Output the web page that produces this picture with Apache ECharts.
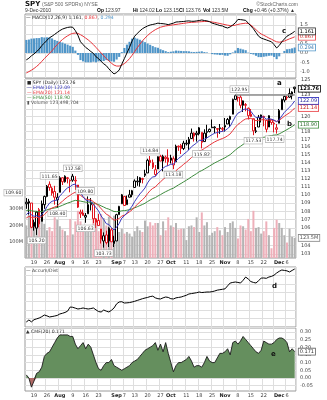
<!DOCTYPE html>
<html><head><meta charset="utf-8">
<script src="https://cdn.jsdelivr.net/npm/echarts@6/dist/echarts.min.js"></script>
<style>html,body{margin:0;padding:0;background:#fff}#c{width:327px;height:400px}</style>
</head><body><div id="c"></div>
<script>
// SPY daily, 14 Jul 2010 - 9 Dec 2010
const DATES = [
'2010-07-14','2010-07-15','2010-07-16','2010-07-19','2010-07-20','2010-07-21','2010-07-22','2010-07-23','2010-07-26','2010-07-27','2010-07-28','2010-07-29','2010-07-30',
'2010-08-02','2010-08-03','2010-08-04','2010-08-05','2010-08-06','2010-08-09','2010-08-10','2010-08-11','2010-08-12','2010-08-13','2010-08-16','2010-08-17','2010-08-18','2010-08-19','2010-08-20','2010-08-23','2010-08-24','2010-08-25','2010-08-26','2010-08-27','2010-08-30','2010-08-31',
'2010-09-01','2010-09-02','2010-09-03','2010-09-07','2010-09-08','2010-09-09','2010-09-10','2010-09-13','2010-09-14','2010-09-15','2010-09-16','2010-09-17','2010-09-20','2010-09-21','2010-09-22','2010-09-23','2010-09-24','2010-09-27','2010-09-28','2010-09-29','2010-09-30',
'2010-10-01','2010-10-04','2010-10-05','2010-10-06','2010-10-07','2010-10-08','2010-10-11','2010-10-12','2010-10-13','2010-10-14','2010-10-15','2010-10-18','2010-10-19','2010-10-20','2010-10-21','2010-10-22','2010-10-25','2010-10-26','2010-10-27','2010-10-28','2010-10-29',
'2010-11-01','2010-11-02','2010-11-03','2010-11-04','2010-11-05','2010-11-08','2010-11-09','2010-11-10','2010-11-11','2010-11-12','2010-11-15','2010-11-16','2010-11-17','2010-11-18','2010-11-19','2010-11-22','2010-11-23','2010-11-24','2010-11-26','2010-11-29','2010-11-30',
'2010-12-01','2010-12-02','2010-12-03','2010-12-06','2010-12-07','2010-12-08','2010-12-09'];

const OPEN = [
108.9,109.0,109.0,106.2,106.0,108.2,106.8,108.8,109.8,111.3,
110.8,110.4,109.4,110.3,112.1,111.6,112.0,111.8,111.8,111.8,
111.2,107.7,107.8,107.3,107.7,108.8,108.8,107.1,106.9,105.9,
104.5,105.2,104.5,105.8,104.2,104.5,107.6,108.9,109.8,108.8,
109.7,110.0,110.9,111.6,111.5,111.9,112.4,112.7,114.3,114.0,
113.1,113.2,114.8,114.2,114.7,114.6,114.3,114.5,114.1,116.1,
116.2,115.8,116.4,116.4,117.1,117.8,117.8,117.7,117.9,116.7,
117.9,118.0,118.5,118.5,118.4,118.5,118.4,118.8,119.0,119.6,
120.3,122.3,122.6,122.6,121.5,121.5,121.1,120.3,119.7,118.0,
118.6,119.8,119.9,119.5,118.6,119.6,119.1,118.5,119.1,120.9,
122.2,122.6,123.1,122.8,123.97];
const HIGH = [
109.60,109.5,109.0,107.0,108.0,108.4,109.3,109.9,111.2,111.65,
111.0,111.1,110.2,112.3,112.15,112.4,112.2,111.9,112.58,112.3,
111.2,108.2,108.2,107.8,109.80,109.6,108.8,107.2,107.7,105.9,
105.5,105.7,106.1,106.0,105.1,107.7,108.65,110.1,109.8,109.9,
110.6,110.6,111.9,112.3,112.2,112.1,113.1,114.5,114.84,114.4,
113.7,114.8,115.0,115.0,114.9,115.7,115.0,114.8,116.3,116.2,
116.4,116.8,116.9,117.3,118.4,117.9,118.1,118.6,117.9,118.3,
118.9,118.4,119.6,118.7,118.4,119.0,118.6,119.8,119.8,120.1,
122.4,122.95,122.7,122.9,122.15,121.8,121.2,121.0,119.7,118.6,
120.2,120.25,120.1,119.5,120.15,119.6,119.3,119.0,121.0,122.4,
122.8,122.8,123.8,123.4,124.02];
const LOW = [
108.3,107.6,106.0,105.7,105.20,106.1,106.8,108.3,109.7,110.5,
109.9,108.8,108.40,110.3,111.2,111.5,111.4,110.3,111.6,110.6,
108.4,107.2,107.5,106.63,107.7,108.1,106.6,106.0,106.3,104.2,
103.73,104.1,103.8,104.4,103.8,104.5,107.6,108.9,108.65,108.8,
109.7,109.7,110.9,111.1,111.0,111.4,112.2,112.7,113.6,113.2,
112.3,113.2,114.2,112.9,114.0,113.6,113.9,113.18,114.1,115.5,
115.1,115.6,116.2,115.6,117.1,116.7,116.7,117.5,115.82,116.7,
117.1,117.9,118.5,117.8,117.2,117.7,118.0,118.0,119.0,118.6,
120.3,122.2,122.0,121.1,120.6,120.7,119.6,119.9,117.53,117.8,
118.6,119.2,118.7,117.9,118.6,118.9,117.9,117.74,119.1,120.9,
121.9,122.2,122.5,122.3,123.15];
const CLOSE = [
109.1,109.2,106.1,106.7,107.9,106.5,108.9,109.8,111.05,110.9,
110.2,109.7,109.7,112.1,111.6,112.3,112.1,111.7,112.3,111.7,
108.5,107.9,107.5,107.5,108.8,108.97,107.1,106.7,106.3,104.7,
105.1,104.3,106.0,104.4,104.5,107.6,108.6,110.0,108.7,109.4,
110.0,110.5,111.7,111.7,112.1,112.0,112.6,114.3,114.0,113.4,
112.5,114.75,114.2,114.8,114.5,114.1,114.6,113.7,116.1,116.0,
115.8,116.5,116.5,117.0,117.8,117.4,117.6,118.5,116.6,117.8,
118.0,118.3,118.6,118.6,118.3,118.4,118.3,118.6,119.6,120.0,
122.3,122.8,122.5,121.5,122.1,121.6,120.1,120.0,118.1,118.1,
119.9,120.2,120.0,118.3,120.1,119.2,119.0,118.3,120.8,122.3,
122.7,122.5,122.6,123.30,123.76];
// volume, millions of shares
const VOLUME_M = [
200,265,300,210,260,260,230,210,170,190,
165,250,235,195,175,165,140,240,145,225,
290,225,190,175,200,185,250,225,165,270,
245,200,255,155,260,250,160,180,150,160,
150,130,165,195,170,160,230,195,220,200,
215,215,140,225,170,250,200,190,215,175,
180,180,110,195,200,190,250,160,280,200,
220,140,155,165,190,170,140,190,160,215,
225,185,120,200,195,175,240,165,290,185,
190,150,165,225,140,60,185,235,215,185,
140,95,180,130,123.5];

const EMA10 = [
107.6,107.89,107.56,107.4,107.49,107.31,107.6,108.0,108.56,108.99,
109.21,109.3,109.37,109.87,110.18,110.57,110.85,111.0,111.24,111.32,
110.81,110.28,109.77,109.36,109.26,109.21,108.83,108.44,108.05,107.44,
107.01,106.52,106.43,106.06,105.78,106.11,106.56,107.19,107.46,107.81,
108.21,108.63,109.19,109.65,110.1,110.45,110.84,111.47,111.93,112.2,
112.25,112.71,112.98,113.31,113.53,113.63,113.81,113.79,114.21,114.54,
114.77,115.08,115.34,115.64,116.03,116.28,116.52,116.88,116.83,117.01,
117.19,117.39,117.61,117.79,117.88,117.97,118.03,118.13,118.4,118.69,
119.35,119.98,120.44,120.63,120.9,121.03,120.86,120.7,120.23,119.84,
119.85,119.91,119.93,119.63,119.72,119.63,119.52,119.3,119.57,120.07,
120.55,120.9,121.25,121.62,122.09];
const EMA20 = [
107.2,107.39,107.27,107.22,107.28,107.21,107.37,107.6,107.93,108.21,
108.4,108.52,108.63,108.96,109.21,109.5,109.75,109.94,110.16,110.31,
110.14,109.93,109.7,109.49,109.42,109.38,109.16,108.93,108.68,108.3,
108.0,107.65,107.49,107.2,106.94,107.0,107.15,107.42,107.54,107.72,
107.94,108.18,108.52,108.82,109.13,109.4,109.71,110.15,110.52,110.79,
110.95,111.31,111.59,111.9,112.14,112.33,112.55,112.66,112.99,113.27,
113.51,113.8,114.05,114.33,114.66,114.92,115.18,115.5,115.6,115.81,
116.02,116.24,116.46,116.66,116.82,116.97,117.1,117.24,117.46,117.7,
118.14,118.58,118.95,119.19,119.47,119.67,119.71,119.74,119.58,119.44,
119.48,119.55,119.59,119.47,119.53,119.5,119.45,119.34,119.48,119.75,
120.03,120.27,120.5,120.78,121.14];
const EMA50 = [
108.1,108.14,108.06,108.01,108.0,107.94,107.98,108.05,108.17,108.28,
108.35,108.4,108.46,108.6,108.72,108.86,108.99,109.09,109.22,109.32,
109.28,109.23,109.16,109.1,109.09,109.08,109.0,108.91,108.81,108.65,
108.51,108.35,108.26,108.11,107.97,107.96,107.98,108.06,108.08,108.13,
108.2,108.29,108.42,108.55,108.69,108.82,108.97,109.18,109.37,109.53,
109.65,109.85,110.02,110.21,110.38,110.53,110.69,110.81,111.02,111.22,
111.4,111.6,111.79,111.99,112.22,112.42,112.62,112.85,113.0,113.19,
113.38,113.57,113.77,113.96,114.13,114.3,114.46,114.62,114.82,115.02,
115.31,115.6,115.87,116.09,116.33,116.54,116.68,116.81,116.86,116.91,
117.03,117.15,117.26,117.3,117.41,117.48,117.54,117.57,117.7,117.88,
118.07,118.26,118.46,118.67,118.9];

const MACD = [
-0.37,-0.28,-0.15,-0.05,0.08,0.2,0.4,0.53,0.68,0.82,
0.9,1.0,1.1,1.2,1.28,1.33,1.37,1.39,1.38,1.2,
0.95,0.6,0.45,0.3,0.2,0.08,-0.02,-0.2,-0.3,-0.45,
-0.58,-0.68,-0.85,-1.0,-1.12,-1.05,-0.91,-0.6,-0.3,0.0,
0.3,0.65,0.9,1.05,1.18,1.3,1.38,1.45,1.5,1.53,
1.56,1.6,1.58,1.57,1.55,1.52,1.56,1.6,1.66,1.67,
1.68,1.69,1.71,1.72,1.7,1.7,1.72,1.74,1.77,1.74,
1.72,1.68,1.6,1.56,1.52,1.47,1.45,1.38,1.34,1.4,
1.5,1.62,1.8,1.79,1.77,1.75,1.6,1.45,1.3,1.1,
0.9,0.8,0.75,0.7,0.65,0.6,0.45,0.27,0.4,0.6,
0.75,0.9,0.98,1.06,1.161];
const MACD_SIGNAL = [
-1.07,-1.0,-0.92,-0.83,-0.72,-0.6,-0.45,-0.3,-0.16,-0.02,
0.12,0.3,0.45,0.6,0.72,0.83,0.92,1.0,1.05,1.07,
1.05,0.98,0.9,0.8,0.7,0.58,0.45,0.3,0.15,0.0,
-0.15,-0.3,-0.42,-0.55,-0.65,-0.7,-0.7,-0.65,-0.57,-0.45,
-0.3,-0.12,0.08,0.28,0.47,0.65,0.8,0.94,1.06,1.16,
1.25,1.32,1.38,1.42,1.45,1.47,1.49,1.51,1.53,1.55,
1.57,1.59,1.61,1.63,1.64,1.65,1.66,1.67,1.68,1.69,
1.69,1.68,1.66,1.64,1.61,1.58,1.55,1.52,1.49,1.47,
1.47,1.49,1.53,1.56,1.58,1.6,1.58,1.5,1.38,1.25,
1.12,1.02,0.95,0.88,0.8,0.74,0.66,0.6,0.58,0.6,
0.64,0.7,0.76,0.81,0.867];
const MACD_HIST = [
0.70,0.72,0.77,0.78,0.80,0.80,0.85,0.83,0.84,0.84,
0.78,0.70,0.65,0.60,0.56,0.50,0.45,0.39,0.33,0.13,
-0.10,-0.38,-0.45,-0.50,-0.50,-0.50,-0.47,-0.50,-0.45,-0.45,
-0.43,-0.38,-0.43,-0.45,-0.47,-0.35,-0.21,0.05,0.27,0.45,
0.60,0.77,0.82,0.77,0.71,0.65,0.58,0.51,0.44,0.37,
0.31,0.28,0.20,0.15,0.10,0.05,0.07,0.09,0.13,0.12,
0.11,0.10,0.10,0.09,0.06,0.05,0.06,0.07,0.09,0.05,
0.03,0.00,-0.06,-0.08,-0.09,-0.11,-0.10,-0.14,-0.15,-0.07,
0.03,0.13,0.27,0.23,0.19,0.15,0.02,-0.05,-0.08,-0.15,
-0.22,-0.22,-0.20,-0.18,-0.15,-0.14,-0.21,-0.33,-0.18,0.00,
0.11,0.20,0.22,0.25,0.294];

const ACCUM_DIST = [
0.58,0.82,0.6,0.85,0.95,1.05,1.2,1.4,1.3,1.17,
1.22,1.28,1.35,1.52,1.6,1.7,1.85,2.33,2.3,2.2,
2.1,2.15,2.22,2.15,2.1,2.15,2.22,2.0,1.8,1.75,
1.98,1.85,1.75,1.95,2.22,2.7,2.92,2.95,2.8,2.82,
2.85,2.92,3.0,3.1,3.2,3.3,3.38,3.45,3.55,3.6,
3.4,3.3,3.27,3.4,3.5,3.45,3.3,3.27,3.4,3.45,
3.5,3.6,3.7,3.85,3.9,3.95,4.0,4.08,4.02,4.05,
4.08,4.08,4.12,4.2,4.3,4.35,4.4,4.45,4.8,5.13,
5.2,5.25,5.2,5.13,5.45,5.83,5.6,5.3,5.2,5.13,
5.4,5.7,5.72,5.68,5.83,5.9,6.05,6.3,6.5,6.65,
6.6,6.55,6.42,6.6,6.77];

const CMF20 = [
0.02,0.0,-0.06,-0.02,0.03,0.04,0.07,0.14,0.16,0.17,
0.2,0.23,0.26,0.28,0.28,0.28,0.28,0.27,0.27,0.22,
0.19,0.21,0.23,0.19,0.22,0.2,0.15,0.1,0.06,0.05,
0.08,0.1,0.1,0.12,0.08,0.07,0.06,0.05,0.06,0.07,
0.08,0.1,0.11,0.12,0.14,0.16,0.18,0.19,0.2,0.21,
0.23,0.18,0.22,0.17,0.23,0.16,0.1,0.04,0.08,0.1,
0.1,0.11,0.12,0.14,0.11,0.07,0.08,0.08,0.07,0.1,
0.14,0.11,0.1,0.1,0.13,0.16,0.16,0.17,0.19,0.15,
0.23,0.24,0.22,0.24,0.27,0.25,0.23,0.21,0.19,0.17,
0.16,0.18,0.24,0.23,0.22,0.22,0.23,0.25,0.26,0.26,
0.25,0.23,0.17,0.19,0.171];

// axis tick values and labels
const PRICE_TICKS = [103,104,105,106,107,108,109,110,111,112,113,114,115,116,117,118,119,120,121,122,123,124,125];
const VOLUME_TICKS = [100,200,300,400];
const MACD_TICKS = [-1,-0.5,0,0.5,1,1.5];
const CMF_TICKS = [-0.05,0,0.05,0.1,0.15,0.2,0.25,0.3];
const X_TICK_LABELS = {
'2010-07-19':'19','2010-07-26':'26','2010-08-02':'Aug','2010-08-09':'9','2010-08-16':'16','2010-08-23':'23',
'2010-09-01':'Sep','2010-09-07':'7','2010-09-13':'13','2010-09-20':'20','2010-09-27':'27',
'2010-10-01':'Oct','2010-10-11':'11','2010-10-18':'18','2010-10-25':'25',
'2010-11-01':'Nov','2010-11-08':'8','2010-11-15':'15','2010-11-22':'22',
'2010-12-01':'Dec','2010-12-06':'6'};
// swing highs / lows that carry a price tag
const SWING_HIGHS = ['2010-07-14','2010-07-27','2010-08-09','2010-08-17','2010-09-21','2010-11-05'];
const SWING_LOWS = ['2010-07-20','2010-07-30','2010-08-16','2010-08-25','2010-10-04','2010-10-19','2010-11-16','2010-11-30'];

const FONT = 'DejaVu Sans';
const HEAD_FONT = 'Liberation Sans';
const RED = '#e0141e', BLACK = '#000';
const N = DATES.length;
const last = N - 1;
const GRID_LINE = '#dedede';

// first trading day of each week gets a vertical grid line
const weekStart = DATES.map((d, i) => {
  if (i === 0) return false;
  const a = new Date(d + 'T00:00:00Z').getUTCDay();
  const b = new Date(DATES[i - 1] + 'T00:00:00Z').getUTCDay();
  return a < b;
});

const candles = DATES.map((d, i) => {
  const stroke = i > 0 && CLOSE[i] < CLOSE[i - 1] ? RED : BLACK;
  return {
    value: [OPEN[i], CLOSE[i], LOW[i], HIGH[i]],
    itemStyle: { color: '#fff', color0: stroke, borderColor: stroke, borderColor0: stroke }
  };
});
const volumes = DATES.map((d, i) => ({
  value: VOLUME_M[i],
  itemStyle: { color: i > 0 && CLOSE[i] < CLOSE[i - 1] ? '#eeb0ba' : '#b4b4b4' }
}));

function box(idx, val, text, border, color, bold) {
  return {
    coord: [idx, val], value: val, symbol: 'rect', symbolSize: 1,
    itemStyle: { color: 'rgba(0,0,0,0)' },
    label: {
      show: true, position: 'right', distance: 3.5, formatter: text,
      fontSize: 5, fontFamily: FONT, color: color, fontWeight: bold ? 'bold' : 'normal',
      backgroundColor: '#fff', borderColor: border, borderWidth: 0.8, padding: [1, 1, 0, 1]
    }
  };
}
const swingOffsets = { '2010-07-14': [-13, 0], '2010-08-17': [-3, 0], '2010-11-05': [4, 0], '2010-11-30': [-2, 0] };
function swing(date, isHigh) {
  const i = DATES.indexOf(date);
  const v = isHigh ? HIGH[i] : LOW[i];
  return {
    coord: [i, v], value: v, symbol: 'rect', symbolSize: 1,
    itemStyle: { color: 'rgba(0,0,0,0)' },
    label: {
      show: true, position: isHigh ? 'top' : 'bottom', distance: 2,
      offset: swingOffsets[date] || [0, 0],
      formatter: v.toFixed(2), fontSize: 4.6, fontFamily: FONT, color: '#333',
      backgroundColor: '#fff', borderColor: '#aaa', borderWidth: 0.6, padding: [1, 1, 0, 1]
    }
  };
}

const GRIDS = [
  { left: 25, right: 31, top: 14, height: 64 },
  { left: 25, right: 31, top: 79, height: 179 },
  { left: 25, right: 31, top: 267, height: 60 },
  { left: 25, right: 31, top: 328, height: 63 }
];

function xAxis(g, showLabels) {
  return {
    type: 'category', gridIndex: g, data: DATES, boundaryGap: true,
    axisLine: { show: false }, axisTick: { show: false },
    splitLine: { show: true, interval: (i) => weekStart[i], lineStyle: { color: GRID_LINE, width: 1 } },
    axisLabel: {
      show: showLabels, interval: (i, v) => !!X_TICK_LABELS[v], margin: 2.5,
      fontSize: 5, fontFamily: FONT, color: '#444',
      formatter: (v) => {
        const t = X_TICK_LABELS[v] || '';
        return /[A-Z]/.test(t) ? '{m|' + t + '}' : t;
      },
      rich: { m: { fontSize: 5, fontFamily: FONT, fontWeight: 'bold', color: '#222' } }
    }
  };
}

const yLabel = { fontSize: 5, fontFamily: FONT, color: '#444', margin: 4 };

const option = {
  animation: false,
  backgroundColor: '#fff',
  grid: GRIDS.map(g => Object.assign({ show: true, borderColor: '#9a9a9a', borderWidth: 1, backgroundColor: '#fff' }, g)),
  xAxis: [xAxis(0, false), xAxis(1, true), xAxis(2, false), xAxis(3, true)],
  yAxis: [
    { // MACD
      type: 'value', gridIndex: 0, position: 'right', min: -1.34, max: 2.09,
      axisLine: { show: false },
      axisTick: { show: false, customValues: [-1, -0.5, 0, 0.5, 1, 1.5, 2] },
      axisLabel: Object.assign({ customValues: MACD_TICKS, formatter: v => v.toFixed(1) }, yLabel),
      splitLine: { show: true, lineStyle: { color: GRID_LINE } }
    },
    { // price, log scale
      type: 'log', logBase: 10, gridIndex: 1, position: 'right', min: 102.54, max: 125.1,
      axisLine: { show: false }, axisTick: { show: false }, axisLabel: { show: false }, splitLine: { show: false }
    },
    { // volume
      type: 'value', gridIndex: 1, position: 'left', min: 0, max: 1100,
      axisLine: { show: false },
      axisTick: { show: false, customValues: VOLUME_TICKS },
      axisLabel: Object.assign({ customValues: VOLUME_TICKS, formatter: v => v + 'M' }, yLabel, { margin: 2 }),
      splitLine: { show: false }
    },
    { // accumulation / distribution
      type: 'value', gridIndex: 2, position: 'right', min: 0, max: 7, interval: 1,
      axisLine: { show: false }, axisTick: { show: false }, axisLabel: { show: false },
      splitLine: { show: true, lineStyle: { color: GRID_LINE } }
    },
    { // CMF
      type: 'value', gridIndex: 3, position: 'right', min: -0.085, max: 0.325,
      axisLine: { show: false },
      axisTick: { show: false, customValues: CMF_TICKS },
      axisLabel: Object.assign({ customValues: CMF_TICKS, formatter: v => v.toFixed(2) }, yLabel),
      splitLine: { show: true, lineStyle: { color: GRID_LINE } }
    }
  ],
  series: [
    // MACD panel
    {
      type: 'bar', xAxisIndex: 0, yAxisIndex: 0, data: MACD_HIST, barCategoryGap: '18%',
      itemStyle: { color: '#4f95c8' }, z: 2,
      markPoint: { data: [box(last, MACD_HIST[last], MACD_HIST[last].toFixed(3), '#4f95c8', '#3d7fb5')], z: 10 }
    },
    {
      type: 'line', xAxisIndex: 0, yAxisIndex: 0, data: MACD_SIGNAL, symbol: 'none',
      lineStyle: { color: '#e8343a', width: 1 }, z: 3,
      markPoint: { data: [box(last, MACD_SIGNAL[last], MACD_SIGNAL[last].toFixed(3), '#e8343a', '#d02020')], z: 10 }
    },
    {
      type: 'line', xAxisIndex: 0, yAxisIndex: 0, data: MACD, symbol: 'none',
      lineStyle: { color: '#000', width: 1 }, z: 4,
      markPoint: { data: [box(last, MACD[last], MACD[last].toFixed(3), '#333', '#000')], z: 11 }
    },
    // price panel: volume
    {
      type: 'bar', xAxisIndex: 1, yAxisIndex: 2, data: volumes, barWidth: 2, z: 2,
      markPoint: { data: [box(last, VOLUME_M[last], VOLUME_M[last].toFixed(1) + 'M', '#888', '#555')], z: 9 }
    },
    // candles, with the integer price grid underneath
    {
      type: 'candlestick', xAxisIndex: 1, yAxisIndex: 1, data: candles, barWidth: 2, z: 4,
      markLine: {
        silent: true, symbol: 'none', z: 1, animation: false,
        lineStyle: { color: GRID_LINE, width: 1, type: 'solid' },
        label: { show: true, position: 'end', distance: 5, formatter: p => String(p.value), fontSize: 5, fontFamily: FONT, color: '#444' },
        emphasis: { disabled: true },
        data: PRICE_TICKS.map(v => ({ yAxis: v }))
      },
      markPoint: {
        z: 8,
        data: SWING_HIGHS.map(d => swing(d, true)).concat(SWING_LOWS.map(d => swing(d, false)))
          .concat([box(last, CLOSE[last], CLOSE[last].toFixed(2), '#000', '#000', true)])
      }
    },
    {
      type: 'line', xAxisIndex: 1, yAxisIndex: 1, data: EMA50, symbol: 'none',
      lineStyle: { color: '#3d8b3d', width: 1 }, z: 5,
      markPoint: { data: [box(last, EMA50[last], EMA50[last].toFixed(2), '#3d8b3d', '#2e6e2e')], z: 9 }
    },
    {
      type: 'line', xAxisIndex: 1, yAxisIndex: 1, data: EMA20, symbol: 'none',
      lineStyle: { color: '#e8343a', width: 1 }, z: 5,
      markPoint: { data: [box(last, EMA20[last], EMA20[last].toFixed(2), '#e8343a', '#c82020')], z: 9 }
    },
    {
      type: 'line', xAxisIndex: 1, yAxisIndex: 1, data: EMA10, symbol: 'none',
      lineStyle: { color: '#3a3ac0', width: 1 }, z: 5,
      markPoint: { data: [box(last, EMA10[last], EMA10[last].toFixed(2), '#3a3ac0', '#2a2aa0')], z: 9 },
      markLine: {
        silent: true, symbol: 'none', z: 6, label: { show: false },
        lineStyle: { color: '#8c8c8c', width: 1.6, type: 'solid' },
        data: [[{ coord: [81, HIGH[81]] }, { coord: [last, HIGH[81]] }]]
      }
    },
    // accumulation / distribution
    {
      type: 'line', xAxisIndex: 2, yAxisIndex: 3, data: ACCUM_DIST, symbol: 'none',
      lineStyle: { color: '#000', width: 1 }, z: 3
    },
    // CMF: positive and negative fills, then the outline
    {
      type: 'line', xAxisIndex: 3, yAxisIndex: 4, data: CMF20.map(v => Math.max(v, 0)), symbol: 'none',
      lineStyle: { width: 0 }, areaStyle: { color: '#658f5e', opacity: 1 }, z: 2
    },
    {
      type: 'line', xAxisIndex: 3, yAxisIndex: 4, data: CMF20.map(v => Math.min(v, 0)), symbol: 'none',
      lineStyle: { width: 0 }, areaStyle: { color: '#b06a66', opacity: 1 }, z: 2
    },
    {
      type: 'line', xAxisIndex: 3, yAxisIndex: 4, data: CMF20, symbol: 'none',
      lineStyle: { color: '#1a1a1a', width: 0.9 }, z: 3,
      markPoint: { data: [box(last, CMF20[last], CMF20[last].toFixed(3), '#666', '#333')], z: 9 }
    }
  ],
  graphic: []
};

function txt(x, y, text, extra) {
  return { type: 'text', x: x, y: y, silent: true, z: 100,
    style: Object.assign({ text: text, fontSize: 4.6, fontFamily: FONT, fill: '#333' }, extra || {}) };
}
function head(x, y, text, extra) {
  return txt(x, y, text, Object.assign({ fontFamily: HEAD_FONT, fontSize: 5, rich: {
    b: { fontSize: 5, fontFamily: HEAD_FONT, fontWeight: 'bold', fill: '#000' } } }, extra || {}));
}
const lastChg = CLOSE[last] - CLOSE[last - 1];
option.graphic = [
  txt(25, 0.5, 'SPY', { fontSize: 7, fontWeight: 'bold', fill: '#111' }),
  head(42, 2.3, '(S&P 500 SPDRs) NYSE', { fill: '#666' }),
  head(298, 2.3, '©StockCharts.com', { fill: '#666', align: 'right' }),
  head(25, 8.2, '9-Dec-2010', { fill: '#333' }),
  head(97, 8.2, '{b|Op} ' + OPEN[last].toFixed(2)),
  head(133, 8.2, '{b|Hi} ' + HIGH[last].toFixed(2)),
  head(156, 8.2, '{b|Lo} ' + LOW[last].toFixed(2)),
  head(179, 8.2, '{b|Cl} ' + CLOSE[last].toFixed(2)),
  head(203, 8.2, '{b|Vol} ' + VOLUME_M[last].toFixed(1) + 'M'),
  head(243, 8.2, '{b|Chg} +' + lastChg.toFixed(2) + ' (+' + (lastChg / CLOSE[last - 1] * 100).toFixed(2) + '%) ▲'),
  // MACD legend
  txt(26, 15.5, '— MACD(12,26,9) 1.161, {r|0.867}, {bl|0.294}', {
    fill: '#222', rich: { r: { fontSize: 4.6, fontFamily: FONT, fill: '#e8343a' }, bl: { fontSize: 4.6, fontFamily: FONT, fill: '#4f95c8' } } }),
  // price legend
  txt(27, 80.5, '■ SPY (Daily) ' + CLOSE[last].toFixed(2), { fill: '#222' }),
  txt(27, 85.5, '— EMA(10) ' + EMA10[last].toFixed(2), { fill: '#3a3ac0' }),
  txt(27, 90.5, '— EMA(20) ' + EMA20[last].toFixed(2), { fill: '#e8343a' }),
  txt(27, 95.5, '— EMA(50) ' + EMA50[last].toFixed(2), { fill: '#3d8b3d' }),
  txt(27, 100.5, '▮ Volume 123,498,704', { fill: '#555' }),
  // A/D and CMF legends
  txt(26, 268.5, '— Accum/Dist', { fill: '#444' }),
  txt(26, 329.5, '▲ CMF(20) ' + CMF20[last].toFixed(3), { fill: '#333' }),
  // annotation letters
  txt(282, 28, 'c', { fontSize: 7, fontWeight: 'bold', fill: '#111' }),
  txt(277, 80, 'a', { fontSize: 7, fontWeight: 'bold', fill: '#111' }),
  txt(287, 121, 'b', { fontSize: 7, fontWeight: 'bold', fill: '#111' }),
  txt(272, 283, 'd', { fontSize: 7, fontWeight: 'bold', fill: '#111' }),
  txt(271, 351, 'e', { fontSize: 7, fontWeight: 'bold', fill: '#111' })
];

const chart = echarts.init(document.getElementById('c'), null, { renderer: 'canvas' });
chart.setOption(option);
</script>
</body></html>
